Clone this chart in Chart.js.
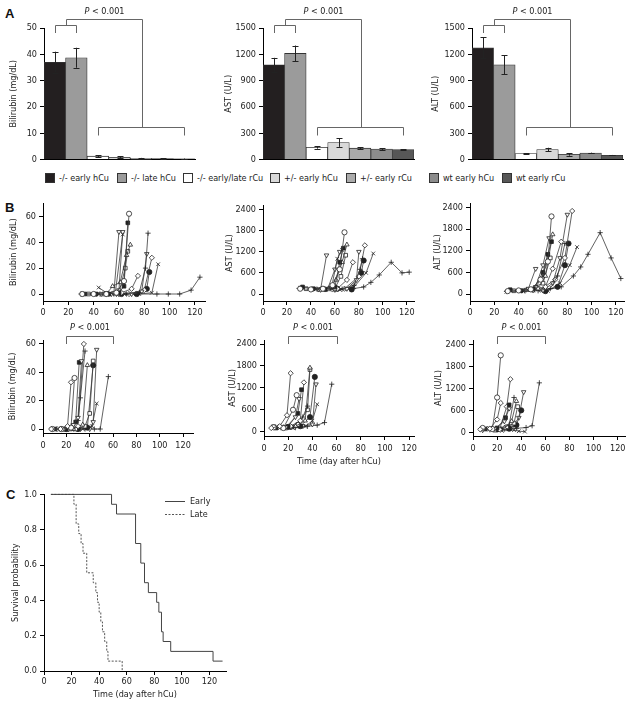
<!DOCTYPE html>
<html>
<head>
<meta charset="utf-8">
<script src="https://cdn.jsdelivr.net/npm/chart.js@4.4.0/dist/chart.umd.min.js"></script>
<style>
  body { margin: 0; background: #fff; }
  #page { position: relative; width: 630px; height: 705px; overflow: hidden; background: #fff;
          font-family: "DejaVu Sans Condensed", "Liberation Sans", Arial, sans-serif; color: #222; }
  #page canvas { position: absolute; }
  .panel { position: absolute; font: bold 13px "Liberation Sans", Arial, sans-serif; color: #111; }
  .leg { position: absolute; top: 173px; font-size: 9px; line-height: 10px; white-space: nowrap; }
  .leg i { display: inline-block; width: 8px; height: 8px; border: 1px solid #333; margin-right: 4px; vertical-align: top; }
</style>
</head>
<body>
<div id="page">
  <div class="panel" style="left:5px;top:6px">A</div>
  <div class="panel" style="left:5px;top:200px">B</div>
  <div class="panel" style="left:6px;top:487px">C</div>
</div>
<script>
// ----------------------------
// Data
// ----------------------------
const groups = ['-/- early hCu', '-/- late hCu', '-/- early/late rCu', '+/- early hCu', '+/- early rCu', 'wt early hCu', 'wt early rCu'];
const groupColors = ['#231f20', '#9b9b9b', '#ffffff', '#d9d9d9', '#ababab', '#8c8c8c', '#575757'];

const biliMean = [37, 38.7, 1.3, 0.9, 0.5, 0.4, 0.3];
const biliErr = [4, 3.8, 0.3, 0.4, 0.15, 0.1, 0.1];
const astMean = [1080, 1210, 140, 195, 130, 120, 115];
const astErr = [80, 90, 15, 50, 10, 10, 4];
const altMean = [1275, 1080, 70, 115, 60, 75, 50];
const altErr = [120, 110, 5, 20, 15, 4, 3];

const biliTicksA = [0, 10, 20, 30, 40, 50];
const enzTicksA = [0, 300, 600, 900, 1200, 1500];
const biliTicksB = [0, 20, 40, 60];
const enzTicksB = [0, 600, 1200, 1800, 2400];
const dayTicks = [0, 20, 40, 60, 80, 100, 120];
const survTicks = [0, 0.2, 0.4, 0.6, 0.8, 1.0];
const pDays = [20, 60];

// each mouse: [day, value] points
const earlyMarkers = ['circle', 'rectFilled', 'triangleDown', 'crossRot', 'triangleDown', 'triangle', 'rect',
                      'rectRot', 'cross', 'triangleDown', 'rectRot', 'circleFilled', 'crossRot', 'cross'];
const earlyBili = [
  [[31,0],[40,0],[50,0],[58,1],[64,10],[68,62]],
  [[33,0],[42,0],[52,0],[60,1],[64,6],[67,55]],
  [[42,0],[50,0],[56,1],[60,48]],
  [[44,5],[50,1],[57,0],[63,46]],
  [[46,0],[54,0],[60,3],[63,48]],
  [[50,0],[55,6],[61,9],[66,30],[69,38]],
  [[36,0],[48,0],[60,1],[65,20],[67,33]],
  [[52,0],[62,1],[70,4],[75,14]],
  [[56,0],[66,0],[76,1],[81,20],[83,47]],
  [[60,0],[70,0],[78,2],[82,31]],
  [[58,0],[68,0],[80,3],[86,28]],
  [[62,0],[74,0],[82,4],[84,17]],
  [[64,0],[76,0],[86,1],[91,23]],
  [[30,0],[45,0],[60,0],[75,0],[90,0],[99,0],[108,0],[117,3],[124,13]]
];
const earlyAst = [
  [[31,150],[40,130],[50,150],[58,250],[64,700],[68,1750]],
  [[33,200],[42,150],[52,130],[60,200],[64,900],[67,1300]],
  [[42,150],[48,120],[53,1100]],
  [[44,140],[50,160],[57,150],[62,1000],[66,1250]],
  [[46,130],[54,150],[60,700],[64,1200]],
  [[50,140],[55,160],[61,400],[66,900],[70,1400]],
  [[36,150],[48,130],[60,160],[65,500],[69,1100]],
  [[52,130],[62,150],[70,400],[75,900]],
  [[56,150],[66,140],[76,250],[81,700],[83,1000]],
  [[60,120],[70,150],[78,400],[80,1200]],
  [[58,130],[68,150],[80,500],[85,1380]],
  [[62,150],[74,130],[82,600],[84,950]],
  [[64,120],[76,200],[86,600],[92,1150]],
  [[30,160],[45,140],[60,130],[75,150],[84,200],[90,330],[97,540],[107,900],[116,600],[122,620]]
];
const earlyAlt = [
  [[31,80],[40,100],[50,130],[58,400],[64,900],[67,2150]],
  [[33,120],[42,90],[52,140],[60,600],[64,1100],[67,1450]],
  [[42,100],[48,150],[54,700]],
  [[30,60],[44,80],[52,100],[60,500],[64,1100]],
  [[46,120],[54,200],[60,800],[65,1550]],
  [[50,110],[56,150],[62,500],[68,1650]],
  [[36,90],[48,130],[60,300],[66,1000]],
  [[52,100],[62,200],[68,700],[75,1450]],
  [[56,90],[66,150],[72,500],[78,1400]],
  [[60,100],[68,300],[74,1000],[80,2200]],
  [[58,120],[70,400],[78,1000],[84,2300]],
  [[62,80],[72,200],[78,800],[81,1400]],
  [[64,90],[74,300],[82,800],[88,1300]],
  [[30,70],[45,90],[60,110],[75,200],[85,500],[91,750],[97,1100],[107,1700],[116,1000],[124,430]]
];

const lateMarkers = ['rectRot', 'circle', 'triangleDown', 'rectFilled', 'rectRot', 'cross', 'triangle',
                     'rect', 'circleFilled', 'triangleDown', 'crossRot', 'cross'];
const lateBili = [
  [[7,0],[15,0],[21,2],[24,33]],
  [[8,0],[16,0],[24,1],[27,36]],
  [[8,0],[18,0],[26,3],[30,8],[33,48]],
  [[10,0],[20,0],[28,5],[31,47]],
  [[12,0],[22,0],[30,2],[35,60]],
  [[14,0],[24,0],[30,6],[32,22],[36,55]],
  [[16,0],[26,0],[34,3],[38,45]],
  [[18,0],[28,0],[36,2],[40,11],[43,48]],
  [[20,0],[30,0],[38,1],[43,45]],
  [[22,0],[32,0],[40,0],[43,5],[46,56]],
  [[24,0],[34,0],[42,2],[46,18]],
  [[26,0],[36,0],[44,0],[49,0],[56,37]]
];
const lateAst = [
  [[6,100],[13,150],[19,450],[22,1600]],
  [[8,120],[16,100],[24,600],[27,1000]],
  [[8,150],[18,120],[26,400],[29,900]],
  [[10,100],[20,140],[28,500],[31,1150]],
  [[12,130],[22,150],[30,300],[33,1350]],
  [[14,110],[24,130],[32,400],[36,700]],
  [[16,120],[26,150],[34,300],[38,1750]],
  [[18,100],[28,200],[36,600],[38,1700]],
  [[20,130],[30,150],[38,400],[42,1500]],
  [[22,120],[32,160],[40,200],[43,1300]],
  [[24,100],[34,140],[40,300],[44,750]],
  [[26,110],[36,150],[44,180],[50,250],[56,1300]]
];
const lateAlt = [
  [[6,80],[14,100],[20,350],[23,800]],
  [[8,120],[16,90],[20,950],[23,2100]],
  [[8,60],[18,100],[26,300],[30,650]],
  [[10,90],[20,120],[27,400],[30,750]],
  [[12,100],[22,80],[28,700],[31,1450]],
  [[14,70],[24,100],[30,200],[34,950]],
  [[16,90],[26,120],[32,300],[36,850]],
  [[18,60],[28,150],[34,250],[37,700]],
  [[20,80],[30,100],[36,200],[40,600]],
  [[22,100],[32,130],[38,400],[42,1100]],
  [[24,40],[34,60],[38,30],[43,20]],
  [[26,90],[36,110],[44,130],[49,180],[55,1350]]
];

// Kaplan-Meier steps
const earlyDays = [5, 49, 52.6, 66.4, 70.2, 72.9, 75.7, 81.7, 83.3, 85.2, 86.4, 91.9, 122.6, 129.5];
const earlySurv = [1, 0.944, 0.889, 0.722, 0.611, 0.5, 0.444, 0.389, 0.333, 0.222, 0.167, 0.111, 0.056, 0.056];
const lateDays = [5, 21.7, 23.3, 25.2, 26.9, 28.3, 31, 35.7, 37.6, 38.8, 40, 41.2, 42.4, 44, 45.5, 46.4, 56.7];
const lateSurv = [1, 0.944, 0.833, 0.778, 0.722, 0.667, 0.556, 0.5, 0.444, 0.389, 0.333, 0.278, 0.222, 0.167, 0.111, 0.056, 0];

// ----------------------------
// Setup
// ----------------------------
const FONT = '"DejaVu Sans Condensed", "Liberation Sans", Arial, sans-serif';
Chart.defaults.font.family = FONT;
Chart.defaults.font.size = 9;
Chart.defaults.color = '#222';
const page = document.getElementById('page');

// legend row of panel A
const legendLeft = [45, 117, 183, 270, 346, 429, 502];
groups.forEach((g, i) => {
    const d = document.createElement('div');
    d.className = 'leg';
    d.style.left = legendLeft[i] + 'px';
    d.innerHTML = `<i style="background:${groupColors[i]}"></i>${g}`;
    page.appendChild(d);
});

// canvas so that the plot area lands at area {L,T,R,B}
function makeCanvas(area, yW, xH, padTop, padRight) {
    const c = document.createElement('canvas');
    const w = area.R - area.L + yW + padRight;
    const h = area.B - area.T + padTop + xH;
    c.width = w; c.height = h;
    c.style.left = (area.L - yW) + 'px';
    c.style.top = (area.T - padTop) + 'px';
    c.style.width = w + 'px';
    c.style.height = h + 'px';
    page.appendChild(c);
    return c;
}

function drawP(ctx, cx, cy) {
    ctx.font = 'italic 9px ' + FONT;
    const w1 = ctx.measureText('P').width;
    ctx.font = '9px ' + FONT;
    const w2 = ctx.measureText(' < 0.001').width;
    const x0 = cx - (w1 + w2) / 2;
    ctx.fillStyle = '#222';
    ctx.textBaseline = 'middle';
    ctx.textAlign = 'left';
    ctx.font = 'italic 9px ' + FONT;
    ctx.fillText('P', x0, cy);
    ctx.font = '9px ' + FONT;
    ctx.fillText(' < 0.001', x0 + w1, cy);
}

const px = v => Math.round(v) + 0.5;

// ----------------------------
// Plugins
// ----------------------------
const errorBarPlugin = {
    id: 'errorBars',
    afterDatasetsDraw(chart, args, opts) {
        const { ctx, scales: { y } } = chart;
        const meta = chart.getDatasetMeta(0);
        const mean = chart.data.datasets[0].data;
        ctx.save();
        ctx.strokeStyle = '#222';
        ctx.lineWidth = 1;
        meta.data.forEach((bar, i) => {
            const x = px(bar.x);
            const hi = y.getPixelForValue(mean[i] + opts.err[i]);
            const lo = y.getPixelForValue(Math.max(mean[i] - opts.err[i], 0));
            ctx.beginPath();
            ctx.moveTo(x, lo); ctx.lineTo(x, hi);
            ctx.moveTo(x - 3, px(hi)); ctx.lineTo(x + 3, px(hi));
            ctx.moveTo(x - 3, px(lo)); ctx.lineTo(x + 3, px(lo));
            ctx.stroke();
        });
        ctx.restore();
    }
};

const groupBracketPlugin = {
    id: 'groupBracket',
    afterDraw(chart) {
        const { ctx, chartArea: a, scales: { x } } = chart;
        const n = chart.data.labels.length;
        const c = i => px(x.getPixelForValue(i));
        const yS = px(a.top - 3), yBig = px(a.top - 9);
        const yLow = px(a.bottom - 0.246 * (a.bottom - a.top));
        const xMid = px((c(0) + c(1)) / 2), xLow = px((c(2) + c(n - 1)) / 2);
        ctx.save();
        ctx.strokeStyle = '#666';
        ctx.lineWidth = 1;
        ctx.beginPath();
        ctx.moveTo(c(0), a.top + 5); ctx.lineTo(c(0), yS); ctx.lineTo(c(1), yS); ctx.lineTo(c(1), a.top + 5);
        ctx.moveTo(xMid, yS); ctx.lineTo(xMid, yBig); ctx.lineTo(xLow, yBig); ctx.lineTo(xLow, yLow);
        ctx.moveTo(c(2), yLow + 8); ctx.lineTo(c(2), yLow); ctx.lineTo(c(n - 1), yLow); ctx.lineTo(c(n - 1), yLow + 8);
        ctx.stroke();
        drawP(ctx, (xMid + xLow) / 2, yBig - 8);
        ctx.restore();
    }
};

const rangeBracketPlugin = {
    id: 'rangeBracket',
    afterDraw(chart) {
        const { ctx, chartArea: a, scales: { x } } = chart;
        const x0 = px(x.getPixelForValue(pDays[0]));
        const x1 = px(x.getPixelForValue(pDays[1]));
        const yH = px(a.top - 4);
        ctx.save();
        ctx.strokeStyle = '#666';
        ctx.lineWidth = 1;
        ctx.beginPath();
        ctx.moveTo(x0, a.top + 4); ctx.lineTo(x0, yH); ctx.lineTo(x1, yH); ctx.lineTo(x1, a.top + 4);
        ctx.stroke();
        drawP(ctx, (x0 + x1) / 2, a.top - 12);
        ctx.restore();
    }
};

const survLegendPlugin = {
    id: 'survLegend',
    afterDraw(chart) {
        const { ctx, chartArea: a } = chart;
        const x0 = a.right - 61, x1 = a.right - 41;
        chart.data.datasets.forEach((ds, i) => {
            const y = px(a.top + 7 + i * 13);
            ctx.save();
            ctx.strokeStyle = ds.borderColor;
            ctx.lineWidth = 1;
            ctx.setLineDash(ds.borderDash || []);
            ctx.beginPath(); ctx.moveTo(x0, y); ctx.lineTo(x1, y); ctx.stroke();
            ctx.setLineDash([]);
            ctx.fillStyle = '#222';
            ctx.font = '9px ' + FONT;
            ctx.textBaseline = 'middle';
            ctx.fillText(ds.label, x1 + 5, y);
            ctx.restore();
        });
    }
};

// ----------------------------
// Axis helpers
// ----------------------------
function linAxis(min, max, ticks, title, tickPad, size, fmt) {
    return {
        type: 'linear', min, max,
        afterBuildTicks: s => { s.ticks = ticks.map(v => ({ value: v })); },
        ticks: { padding: tickPad, autoSkip: false, maxRotation: 0, callback: fmt || (v => String(v)) },
        grid: { drawOnChartArea: false, tickLength: 4, color: '#000' },
        border: { color: '#000' },
        title: { display: !!title, text: title, padding: 0, font: { size: 9 } },
        afterFit: s => { if (s.isHorizontal()) s.height = size; else s.width = size; }
    };
}

const baseOpts = {
    responsive: false,
    animation: false,
    events: []
};

// ----------------------------
// Panel A: bar charts
// ----------------------------
function barChart(left, yW, mean, err, ticks, max, title) {
    const canvas = makeCanvas({ L: left, T: 28, R: left + 151, B: 162 }, yW, 6, 26, 4);
    return new Chart(canvas, {
        type: 'bar',
        data: {
            labels: groups,
            datasets: [{
                data: mean,
                backgroundColor: groupColors,
                borderColor: '#333',
                borderWidth: 0.8,
                categoryPercentage: 1,
                barPercentage: 1
            }]
        },
        options: {
            ...baseOpts,
            layout: { autoPadding: false, padding: { top: 26, right: 4 } },
            plugins: { legend: { display: false }, tooltip: { enabled: false }, errorBars: { err } },
            scales: {
                x: {
                    ticks: { display: false },
                    grid: { display: false },
                    border: { color: '#000' },
                    afterFit: s => { s.height = 6; }
                },
                y: linAxis(0, max, ticks, title, 3, yW)
            }
        },
        plugins: [errorBarPlugin, groupBracketPlugin]
    });
}

barChart(44, 36, biliMean, biliErr, biliTicksA, 50, 'Bilirubin (mg/dL)');
barChart(263, 40, astMean, astErr, enzTicksA, 1500, 'AST (U/L)');
barChart(472, 42, altMean, altErr, enzTicksA, 1500, 'ALT (U/L)');

// ----------------------------
// Panel B: individual mice
// ----------------------------
const markerStyles = {
    circle: { style: 'circle', fill: '#fff' },
    circleFilled: { style: 'circle', fill: '#222' },
    rect: { style: 'rect', fill: '#fff' },
    rectFilled: { style: 'rect', fill: '#222' },
    triangle: { style: 'triangle', fill: '#fff' },
    triangleDown: { style: 'triangle', fill: '#fff', rot: 180 },
    rectRot: { style: 'rectRot', fill: '#fff' },
    cross: { style: 'cross', fill: '#fff' },
    crossRot: { style: 'crossRot', fill: '#fff' }
};

function mouseSets(series, markers) {
    return series.map((pts, i) => {
        const m = markerStyles[markers[i % markers.length]];
        return {
            data: pts.map(p => ({ x: p[0], y: p[1] })),
            showLine: true,
            borderColor: '#3a3a3a',
            borderWidth: 0.8,
            pointStyle: m.style,
            pointRotation: m.rot || 0,
            pointBackgroundColor: m.fill,
            pointBorderColor: '#222',
            pointBorderWidth: 0.8,
            pointRadius: 2.6,
            clip: false
        };
    });
}

function mouseChart(cfg) {
    const padTop = cfg.bracket ? 22 : 8;
    const canvas = makeCanvas(cfg.area, cfg.yW, cfg.xH, padTop, 8);
    return new Chart(canvas, {
        type: 'scatter',
        data: { datasets: mouseSets(cfg.series, cfg.markers) },
        options: {
            ...baseOpts,
            layout: { autoPadding: false, padding: { top: padTop, right: 8 } },
            plugins: { legend: { display: false }, tooltip: { enabled: false } },
            scales: {
                x: linAxis(0, cfg.xMax, dayTicks, cfg.xTitle, cfg.tickPad, cfg.xH),
                y: linAxis(cfg.yMin, cfg.yMax, cfg.yTicks, cfg.yTitle, 3, cfg.yW)
            }
        },
        plugins: cfg.bracket ? [rangeBracketPlugin] : []
    });
}

const mousePanels = [
    { series: earlyBili, markers: earlyMarkers, area: { L: 43, T: 203, R: 205, B: 301 }, yW: 35, xH: 16, tickPad: 2,
      xMax: 128, yMin: -5.4, yMax: 70, yTicks: biliTicksB, yTitle: 'Bilirubin (mg/dL)' },
    { series: earlyAst, markers: earlyMarkers, area: { L: 263, T: 205, R: 414, B: 301 }, yW: 39, xH: 16, tickPad: 2,
      xMax: 126, yMin: -198, yMax: 2513, yTicks: enzTicksB, yTitle: 'AST (U/L)' },
    { series: earlyAlt, markers: earlyMarkers, area: { L: 470, T: 203, R: 624, B: 301 }, yW: 38, xH: 16, tickPad: 2,
      xMax: 126.6, yMin: -193, yMax: 2510, yTicks: enzTicksB, yTitle: 'ALT (U/L)' },
    { series: lateBili, markers: lateMarkers, area: { L: 43, T: 340, R: 193, B: 433 }, yW: 36, xH: 18, tickPad: 3,
      xMax: 128.5, yMin: -2.8, yMax: 62.8, yTicks: biliTicksB, yTitle: 'Bilirubin (mg/dL)', bracket: true },
    { series: lateAst, markers: lateMarkers, area: { L: 264, T: 340, R: 414, B: 436 }, yW: 37, xH: 31, tickPad: 3,
      xMax: 124, yMin: -118, yMax: 2510, yTicks: enzTicksB, yTitle: 'AST (U/L)', xTitle: 'Time (day after hCu)', bracket: true },
    { series: lateAlt, markers: lateMarkers, area: { L: 473, T: 340, R: 625, B: 436 }, yW: 40, xH: 18, tickPad: 3,
      xMax: 126, yMin: -100, yMax: 2518, yTicks: enzTicksB, yTitle: 'ALT (U/L)', bracket: true }
];
mousePanels.forEach(mouseChart);

// ----------------------------
// Panel C: survival
// ----------------------------
(function survivalChart() {
    const area = { L: 44, T: 494, R: 226, B: 671 };
    const canvas = makeCanvas(area, 34, 29, 8, 8);
    new Chart(canvas, {
        type: 'scatter',
        data: {
            datasets: [
                { label: 'Early', data: earlyDays.map((d, i) => ({ x: d, y: earlySurv[i] })),
                  showLine: true, stepped: 'before', borderColor: '#444', borderWidth: 1, pointRadius: 0, clip: false },
                { label: 'Late', data: lateDays.map((d, i) => ({ x: d, y: lateSurv[i] })),
                  showLine: true, stepped: 'before', borderColor: '#555', borderWidth: 1, borderDash: [2, 1.5], pointRadius: 0, clip: false }
            ]
        },
        options: {
            ...baseOpts,
            layout: { autoPadding: false, padding: { top: 8, right: 8 } },
            plugins: { legend: { display: false }, tooltip: { enabled: false } },
            scales: {
                x: linAxis(0, 132, dayTicks, 'Time (day after hCu)', 1, 29),
                y: linAxis(0, 1, survTicks, 'Survival probability', 3, 34, v => v.toFixed(1))
            }
        },
        plugins: [survLegendPlugin]
    });
})();
</script>
</body>
</html>
